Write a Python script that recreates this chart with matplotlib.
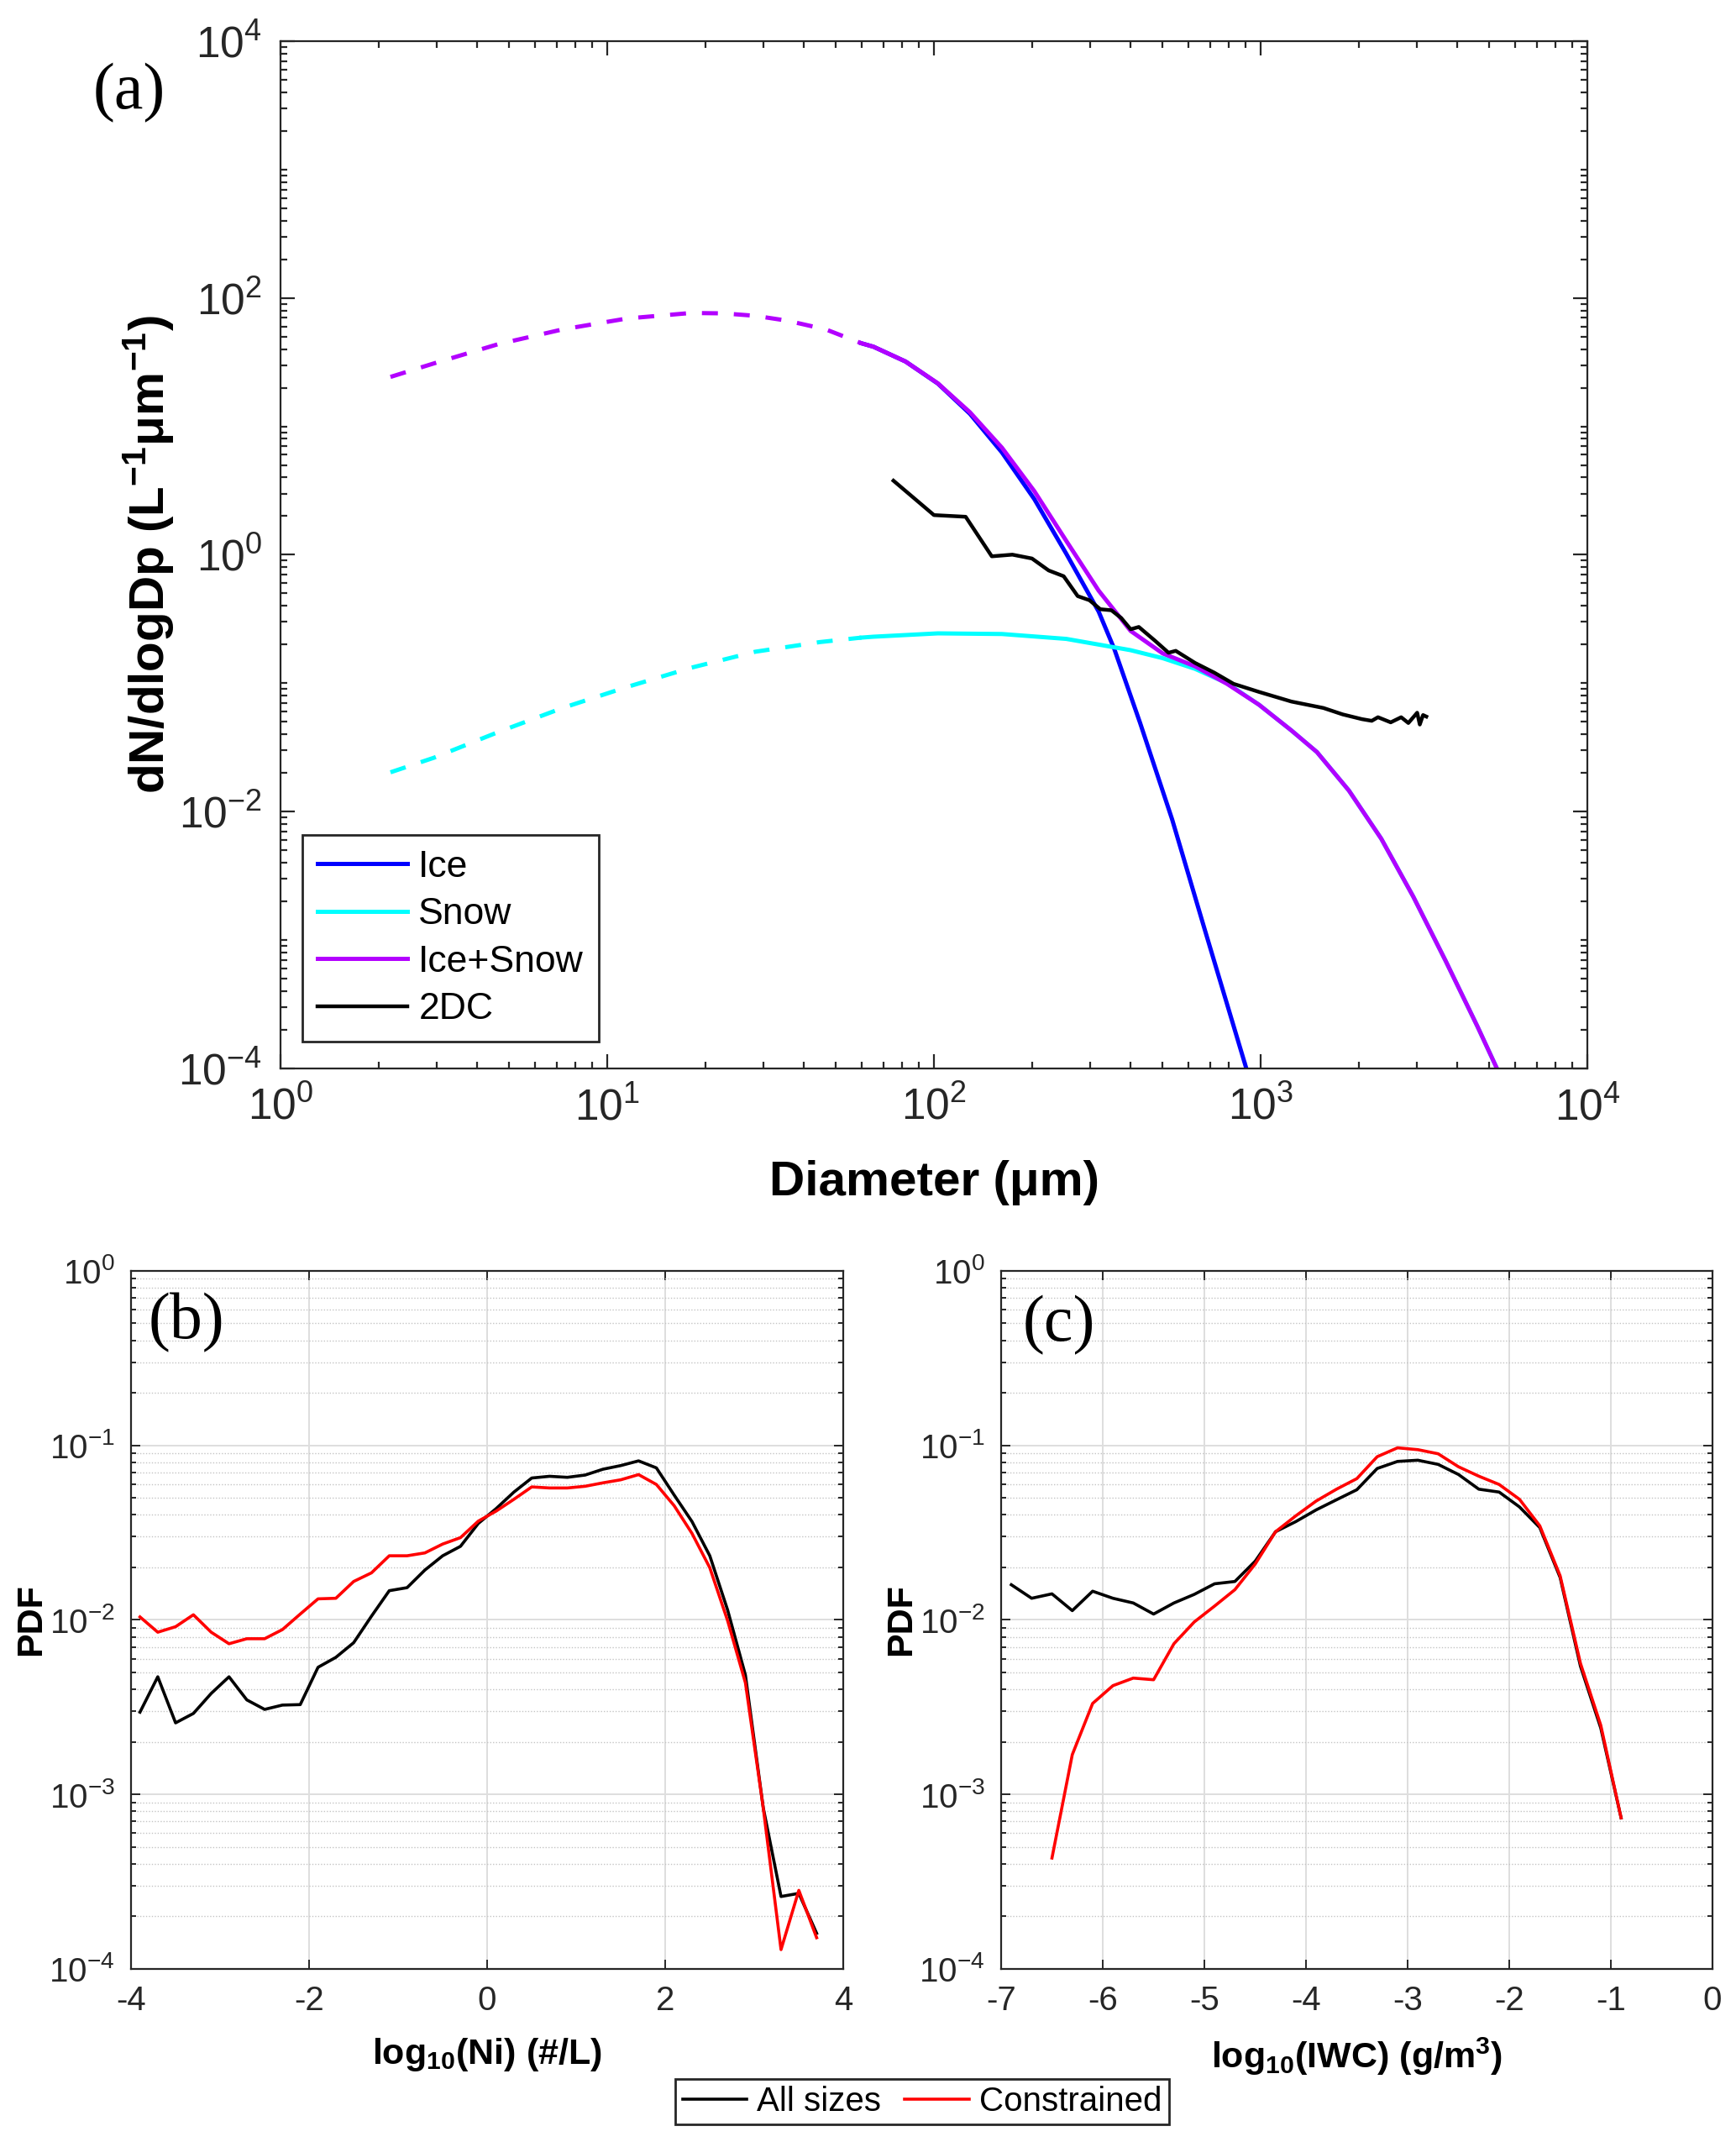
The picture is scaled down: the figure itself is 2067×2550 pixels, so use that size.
import numpy as np
import matplotlib
matplotlib.use("Agg")
import matplotlib.pyplot as plt
from matplotlib.ticker import LogLocator, NullFormatter, MultipleLocator

plt.rcParams.update({
    "font.family": ["Liberation Sans", "DejaVu Sans"],
    "mathtext.fontset": "custom",
    "mathtext.rm": "Liberation Sans",
    "mathtext.it": "Liberation Sans:italic",
    "mathtext.bf": "Liberation Sans:bold",
    "axes.unicode_minus": False,
})

# ---- panel (a): size distribution, values read as log10(D), log10(dN/dlogDp)
sum_logD = [0.3365, 0.469, 0.666, 0.863, 1.060, 1.256, 1.355, 1.453, 1.551, 1.669,
            1.778, 1.815, 1.913, 2.012, 2.110, 2.208, 2.307, 2.405, 2.504, 2.602,
            2.700, 2.799, 2.897, 2.995, 3.094, 3.172, 3.270, 3.369, 3.467, 3.566,
            3.664, 3.723]
sum_logN = [1.385, 1.490, 1.640, 1.755, 1.840, 1.883, 1.880, 1.861, 1.823, 1.755,
            1.647, 1.620, 1.505, 1.335, 1.110, 0.834, 0.496, 0.108, -0.279, -0.593,
            -0.768, -0.868, -1.005, -1.168, -1.368, -1.536, -1.836, -2.211, -2.662, -3.162,
            -3.676, -4.000]

snow_logD = [0.3365, 0.469, 0.666, 0.863, 1.060, 1.256, 1.453, 1.650, 1.778, 1.815,
             2.012, 2.208, 2.405, 2.602, 2.700, 2.799, 2.897, 2.995, 3.094, 3.172,
             3.270, 3.369, 3.467, 3.566, 3.664, 3.723]
snow_logN = [-1.694, -1.581, -1.381, -1.193, -1.030, -0.880, -0.755, -0.680, -0.645, -0.638,
             -0.612, -0.617, -0.655, -0.743, -0.805, -0.888, -1.000, -1.168, -1.368, -1.536,
             -1.836, -2.211, -2.662, -3.162, -3.676, -4.000]

ice_logD = [1.778, 1.815, 1.913, 2.012, 2.110, 2.208, 2.307, 2.405, 2.504, 2.552,
            2.631, 2.729, 2.828, 2.896, 2.956]
ice_logN = [1.647, 1.620, 1.505, 1.333, 1.098, 0.797, 0.434, 0.008, -0.442, -0.734,
            -1.310, -2.061, -2.912, -3.490, -4.000]

dc_logD = [1.876, 2.000, 2.097, 2.177, 2.240, 2.300, 2.351, 2.397, 2.440, 2.476,
           2.509, 2.543, 2.573, 2.602, 2.627, 2.676, 2.718, 2.740, 2.799, 2.858,
           2.917, 2.995, 3.094, 3.192, 3.251, 3.310, 3.340, 3.359, 3.398, 3.430,
           3.452, 3.479, 3.487, 3.497, 3.507]
dc_logN = [0.577, 0.309, 0.296, -0.012, 0.001, -0.029, -0.122, -0.167, -0.322, -0.354,
           -0.424, -0.432, -0.492, -0.580, -0.562, -0.668, -0.763, -0.748, -0.842, -0.918,
           -1.005, -1.068, -1.143, -1.193, -1.243, -1.280, -1.293, -1.265, -1.305, -1.265,
           -1.310, -1.230, -1.322, -1.248, -1.260]

fit_min_um = 10 ** 1.778  # fits drawn dashed below this diameter

# ---- panels (b) and (c): PDFs
ni_bins = np.arange(-3.9, 3.71, 0.2)
ni_all = [2.96e-3, 4.72e-3, 2.57e-3, 2.91e-3, 3.79e-3, 4.72e-3, 3.48e-3, 3.07e-3, 3.25e-3, 3.27e-3,
          5.35e-3, 6.1e-3, 7.4e-3, 1.05e-2, 1.47e-2, 1.53e-2, 1.93e-2, 2.33e-2, 2.64e-2, 3.57e-2,
          4.34e-2, 5.4e-2, 6.5e-2, 6.65e-2, 6.56e-2, 6.76e-2, 7.3e-2, 7.66e-2, 8.15e-2, 7.43e-2,
          5.19e-2, 3.66e-2, 2.33e-2, 1.14e-2, 4.83e-3, 8.4e-4, 2.6e-4, 2.71e-4, 1.6e-4]
ni_con = [1.04e-2, 8.5e-3, 9.14e-3, 1.07e-2, 8.5e-3, 7.3e-3, 7.8e-3, 7.8e-3, 8.8e-3, 1.08e-2,
          1.32e-2, 1.33e-2, 1.66e-2, 1.86e-2, 2.33e-2, 2.33e-2, 2.42e-2, 2.72e-2, 2.96e-2, 3.68e-2,
          4.2e-2, 4.91e-2, 5.78e-2, 5.7e-2, 5.7e-2, 5.83e-2, 6.1e-2, 6.35e-2, 6.8e-2, 5.97e-2,
          4.51e-2, 3.13e-2, 1.99e-2, 9.9e-3, 4.36e-3, 8.4e-4, 1.29e-4, 2.82e-4, 1.51e-4]

iwc_bins = np.arange(-6.9, -0.89, 0.2)
iwc_all = [1.59e-2, 1.33e-2, 1.41e-2, 1.13e-2, 1.46e-2, 1.33e-2, 1.25e-2, 1.08e-2, 1.25e-2, 1.40e-2,
           1.61e-2, 1.66e-2, 2.17e-2, 3.2e-2, 3.66e-2, 4.27e-2, 4.88e-2, 5.57e-2, 7.37e-2, 8.09e-2,
           8.22e-2, 7.78e-2, 6.81e-2, 5.61e-2, 5.4e-2, 4.44e-2, 3.38e-2, 1.75e-2, 5.43e-3, 2.4e-3,
           7.34e-4]
iwc_con_bins = np.arange(-6.5, -0.89, 0.2)
iwc_con = [4.32e-4, 1.69e-3, 3.32e-3, 4.2e-3, 4.64e-3, 4.54e-3, 7.3e-3, 9.73e-3, 1.2e-2, 1.49e-2,
           2.09e-2, 3.2e-2, 3.95e-2, 4.8e-2, 5.61e-2, 6.45e-2, 8.61e-2, 9.68e-2, 9.45e-2, 8.95e-2,
           7.54e-2, 6.66e-2, 5.97e-2, 4.91e-2, 3.46e-2, 1.79e-2, 5.64e-3, 2.49e-3, 7.34e-4]

TXT = "#262626"
PURPLE = "#B300FF"
DASH = (3.8, 3.8)

fig = plt.figure(figsize=(10.335, 12.75), dpi=200)

# ---------------- (a)
ax = fig.add_axes([0.1616, 0.5012, 0.7528, 0.4796])
sD, sN = 10 ** np.array(sum_logD), 10 ** np.array(sum_logN)
nD, nN = 10 ** np.array(snow_logD), 10 ** np.array(snow_logN)
iD, iN = 10 ** np.array(ice_logD), 10 ** np.array(ice_logN)

l_ice, = ax.plot(iD, iN, color="blue", lw=1.8, label="Ice")
lo = nD <= fit_min_um * 1.0001
hi = nD >= fit_min_um * 0.9999
ax.plot(nD[lo], nN[lo], color="cyan", lw=1.8, dashes=DASH)
l_snow, = ax.plot(nD[hi], nN[hi], color="cyan", lw=1.8, label="Snow")
lo = sD <= fit_min_um * 1.0001
hi = sD >= fit_min_um * 0.9999
ax.plot(sD[lo], sN[lo], color=PURPLE, lw=1.8, dashes=DASH)
l_sum, = ax.plot(sD[hi], sN[hi], color=PURPLE, lw=1.8, label="Ice+Snow")
l_dc, = ax.plot(10 ** np.array(dc_logD), 10 ** np.array(dc_logN), color="black", lw=1.6, label="2DC")

ax.set_xscale("log")
ax.set_yscale("log")
ax.set_xlim(1, 1e4)
ax.set_ylim(1e-4, 1e4)
ax.xaxis.set_major_locator(LogLocator(base=10, numticks=10))
ax.xaxis.set_minor_locator(LogLocator(base=10, subs=np.arange(2, 10), numticks=50))
ax.xaxis.set_minor_formatter(NullFormatter())
ax.set_yticks([1e-4, 1e-2, 1, 1e2, 1e4])
ax.yaxis.set_minor_locator(LogLocator(base=10, subs=np.arange(1, 10), numticks=50))
ax.yaxis.set_minor_formatter(NullFormatter())
ax.tick_params(which="both", direction="in", top=True, right=True, colors=TXT, width=0.8)
ax.tick_params(which="major", length=6, labelsize=18.5, pad=8)
ax.tick_params(which="minor", length=3)
for s in ax.spines.values():
    s.set_color(TXT)
    s.set_linewidth(0.8)
ax.set_xlabel("Diameter (μm)", fontsize=21, fontweight="bold", labelpad=13)
ax.set_ylabel("dN/dlogDp (L$^{\\mathbf{-1}}$μm$^{\\mathbf{-1}}$)", fontsize=21,
              fontweight="bold", labelpad=1)
ax.legend(handles=[l_ice, l_snow, l_sum, l_dc], loc="lower left", bbox_to_anchor=(0.017, 0.026),
          fontsize=16, frameon=True, fancybox=False, edgecolor=TXT, framealpha=1,
          handlelength=2.4, borderaxespad=0, labelspacing=0.35, handletextpad=0.3)
fig.text(154 / 2067, 1 - 111 / 2550, "(a)", family="Liberation Serif", fontsize=28,
         ha="center", va="center")

# ---------------- (b), (c)
ax_b = fig.add_axes([0.0755, 0.0808, 0.4103, 0.3259])
ax_c = fig.add_axes([0.5767, 0.0808, 0.4098, 0.3259])

h_all, = ax_b.plot(ni_bins, ni_all, color="black", lw=1.3, label="All sizes")
h_con, = ax_b.plot(ni_bins, ni_con, color="red", lw=1.3, label="Constrained")
ax_c.plot(iwc_bins, iwc_all, color="black", lw=1.3)
ax_c.plot(iwc_con_bins, iwc_con, color="red", lw=1.3)

ax_b.set_xlim(-4, 4)
ax_b.xaxis.set_major_locator(MultipleLocator(2))
ax_c.set_xlim(-7, 0)
ax_c.xaxis.set_major_locator(MultipleLocator(1))
ax_b.set_xlabel("log$_{\\mathbf{10}}$(Ni) (#/L)", fontsize=15.5, fontweight="bold", labelpad=8)
ax_c.set_xlabel("log$_{\\mathbf{10}}$(IWC) (g/m$^{\\mathbf{3}}$)", fontsize=15.5,
                fontweight="bold", labelpad=8)

for a in (ax_b, ax_c):
    a.set_yscale("log")
    a.set_ylim(1e-4, 1)
    a.yaxis.set_major_locator(LogLocator(base=10, numticks=10))
    a.yaxis.set_minor_locator(LogLocator(base=10, subs=np.arange(2, 10), numticks=20))
    a.yaxis.set_minor_formatter(NullFormatter())
    a.grid(which="major", color="#dedede", lw=0.7, ls="-")
    a.grid(which="minor", axis="y", color="#c4c4c4", lw=0.5, ls=(0, (1, 1.5)))
    a.set_axisbelow(True)
    a.tick_params(which="both", direction="in", top=True, right=True, colors=TXT, width=0.7)
    a.tick_params(which="major", length=4, labelsize=14.5, pad=7)
    a.tick_params(which="minor", length=2)
    for s in a.spines.values():
        s.set_color(TXT)
        s.set_linewidth(0.8)
    a.set_ylabel("PDF", fontsize=15.5, fontweight="bold", labelpad=0.5)

fig.text(222 / 2067, 1 - 1575 / 2550, "(b)", family="Liberation Serif", fontsize=28,
         ha="center", va="center")
fig.text(1261 / 2067, 1 - 1578 / 2550, "(c)", family="Liberation Serif", fontsize=28,
         ha="center", va="center")

fig.legend(handles=[h_all, h_con], loc="center", bbox_to_anchor=(1098 / 2067, 1 - 2502 / 2550),
           ncol=2, fontsize=14.5, frameon=True, fancybox=False, edgecolor=TXT, framealpha=1,
           handlelength=1.9, handletextpad=0.3, columnspacing=0.7, borderpad=0.2,
           borderaxespad=0)

fig.savefig("out.png", dpi=200)
